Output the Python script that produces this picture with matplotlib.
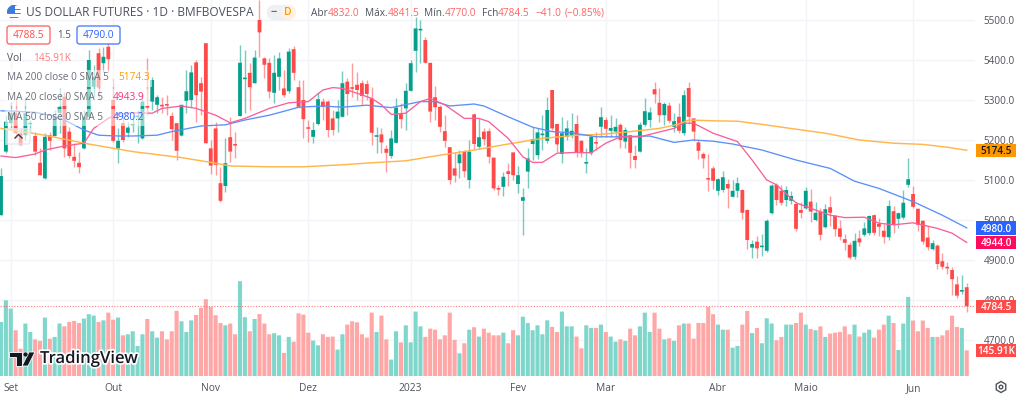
import matplotlib
matplotlib.use("Agg")
import matplotlib.pyplot as plt
import matplotlib.patheffects as pe
from matplotlib.patches import Rectangle, FancyBboxPatch, Circle, Polygon, RegularPolygon

plt.rcParams['font.family'] = ['Open Sans', 'DejaVu Sans']

# daily candles, one column per session
opens = [5012,5171,5242,5267,5217,5212,5239,5210,5143,5104, 5212,5210,5268,5308,5221,5158,5143,5179,5258,5333,
         5417,5392,5433,5300,5179,5242,5218,5236,5257,5204, 5283,5296,5288,5286,5288,5260,5242,5211,5298,5300,
         5394,5342,5442,5179,5229,5092,5085,5207,5188,5260, 5352,5368,5342,5500,5404,5393,5318,5358,5329,5322,
         5427,5332,5300,5230,5208,5240,5296,5296,5254,5254, 5258,5346,5330,5338,5342,5340,5304,5208,5214,5178,
         5160,5193,5265,5279,5323,5423,5474,5450,5393,5307, 5283,5222,5182,5129,5142,5171,5100,5264,5183,5221,
         5222,5156,5078,5083,5122,5169,5090,5048,5121,5190, 5162,5212,5198,5325,5240,5165,5208,5210,5240,5198,
         5141,5167,5193,5233,5250,5223,5221,5238,5196,5212, 5160,5171,5238,5250,5327,5293,5262,5286,5233,5258,
         5217,5330,5254,5194,5165,5103,5129,5073,5075,5090, 5058,5073,5075,5025,4931,4946,4932,4923,5017,5088,
         5073,5050,5048,5040,5025,5029,5046,5000,5021,4982, 5032,5011,4979,4952,4938,4908,4954,4963,4967,5012,
         4990,4973,4957,5022,5003,5006,5088,5065,5028,4998, 4956,4927,4936,4897,4883,4875,4839,4821,4832]
closes = [5110,5246,5267,5217,5187,5267,5241,5171,5112,5208, 5198,5258,5283,5179,5160,5148,5132,5258,5400,5358,
          5332,5408,5402,5198,5198,5200,5231,5238,5259,5296, 5281,5350,5307,5284,5286,5227,5173,5288,5322,5369,
          5312,5321,5192,5136,5138,5048,5142,5171,5186,5393, 5354,5332,5406,5469,5388,5321,5368,5404,5312,5421,
          5368,5283,5252,5228,5225,5302,5283,5225,5225,5271, 5342,5315,5328,5325,5310,5315,5218,5209,5194,5168,
          5204,5281,5252,5323,5392,5479,5476,5393,5271,5282, 5233,5198,5100,5111,5164,5122,5171,5190,5207,5202,
          5158,5079,5076,5108,5115,5112,5112,5057,5154,5202, 5219,5213,5275,5229,5189,5217,5229,5223,5168,5167,
          5143,5208,5191,5257,5228,5230,5233,5200,5225,5168, 5150,5238,5272,5269,5314,5262,5290,5248,5247,5223,
          5312,5258,5221,5173,5154,5101,5098,5102,5107,5079, 5073,5092,5018,4950,4940,4929,4936,4998,5086,5050,
          5043,5075,5060,4978,5018,5073,5021,5018,4963,5027, 5018,4977,4958,4943,4906,4948,4944,4979,5010,4968,
          4983,4958,5035,4988,5017,5043,5102,5033,4988,4946, 4932,4942,4890,4883,4879,4852,4811,4825,4784.5]
highs = [5129,5262,5296,5300,5229,5308,5250,5221,5179,5217, 5221,5275,5329,5321,5233,5192,5171,5275,5425,5388,
         5429,5433,5442,5354,5229,5262,5246,5262,5275,5317, 5404,5358,5312,5308,5312,5271,5242,5288,5375,5388,
         5400,5358,5442,5200,5246,5133,5204,5258,5221,5438, 5425,5392,5425,5550,5408,5404,5412,5421,5375,5429,
         5435,5350,5350,5250,5246,5321,5304,5300,5275,5300, 5373,5354,5392,5371,5350,5350,5333,5233,5229,5188,
         5225,5304,5292,5342,5400,5508,5500,5458,5393,5335, 5288,5262,5182,5171,5175,5175,5200,5267,5254,5229,
         5229,5156,5088,5121,5142,5169,5135,5079,5179,5233, 5229,5262,5308,5325,5240,5258,5250,5268,5262,5200,
         5179,5212,5221,5282,5258,5262,5254,5242,5233,5212, 5188,5246,5304,5283,5346,5329,5296,5296,5267,5292,
         5325,5345,5254,5200,5170,5165,5135,5105,5122,5102, 5100,5108,5078,5028,4950,4960,4966,5003,5090,5092,
         5088,5085,5072,5045,5045,5082,5078,5045,5030,5040, 5060,5011,5000,4965,4945,4968,4975,4995,5012,5015,
         5005,4990,5050,5035,5020,5075,5155,5085,5030,5000, 4985,4950,4940,4917,4895,4882,4860,4862,4841.5]
lows = [5012,5168,5229,5204,5187,5200,5221,5162,5112,5102, 5175,5210,5217,5158,5154,5133,5117,5177,5258,5308,
        5304,5371,5371,5196,5142,5196,5208,5221,5192,5202, 5262,5275,5267,5267,5262,5200,5150,5211,5267,5283,
        5246,5262,5192,5115,5112,5046,5071,5146,5154,5260, 5267,5275,5342,5407,5354,5304,5292,5325,5308,5317,
        5350,5279,5204,5196,5192,5238,5250,5208,5212,5221, 5257,5262,5308,5300,5288,5300,5188,5168,5167,5121,
        5154,5192,5229,5225,5323,5371,5392,5392,5246,5250, 5221,5183,5090,5096,5104,5108,5079,5177,5177,5188,
        5142,5075,5062,5061,5086,5100,5067,4962,5081,5150, 5152,5175,5192,5225,5171,5142,5200,5204,5158,5158,
        5117,5162,5175,5208,5208,5208,5208,5179,5179,5129, 5129,5171,5235,5233,5292,5246,5238,5243,5221,5217,
        5213,5240,5197,5152,5130,5072,5078,5063,5070,5030, 5058,5057,5003,4928,4906,4904,4910,4920,5015,5038,
        5037,5035,5040,4972,5005,5027,4995,4998,4950,4980, 4985,4960,4950,4925,4903,4902,4935,4960,4963,4962,
        4960,4943,4950,4968,4980,5003,5082,5030,4972,4940, 4925,4925,4878,4878,4865,4812,4805,4815,4770]
volumes = [307,430,383,260,155,298,250,208,199,332, 212,222,298,282,307,313,301,326,351,343,
           307,316,360,320,332,231,237,254,171,237, 324,254,218,254,208,254,370,311,250,316,
           347,387,436,392,345,301,288,298,237,538, 334,254,324,352,298,237,243,231,131,222,
           195,356,349,246,201,174,237,222,224,150, 237,292,311,305,237,218,360,250,343,208,
           93,254,191,288,191,366,282,222,269,263, 208,231,360,205,129,186,263,277,224,269,
           246,231,231,246,186,260,231,337,301,260, 288,237,316,279,250,366,282,282,224,157,
           288,273,273,292,250,224,195,208,199,269, 231,282,360,250,360,269,208,214,199,288,
           298,298,212,301,301,392,351,292,263,263, 161,171,292,370,244,273,186,328,298,203,
           222,292,292,301,360,292,267,260,282,222, 241,246,250,282,237,292,224,246,263,218,
           263,292,343,301,148,298,449,315,254,315, 273,222,222,231,260,343,279,273,145.91]

# moving averages read at the session numbers in *_at
ma200_at = [0,9,17,27,37,44,47,55,62,70,76,83,90,97,104,111,118,123,129,135,139,141,146,151,156,163,169,176,183,189,194,198]
ma200 = [5229,5212,5192,5171,5156,5142,5135,5133,5133,5138,5143,5148,5162,5175,5190,5204,5212,5214,5221,5229,5240,5250,5248,5247,5239,5227,5217,5200,5192,5189,5182,5174.3]
ma50_at = [0,3,7,10,13,17,20,24,27,32,35,41,46,50,55,59,61,66,70,75,80,86,89,92,97,99,104,109,113,117,122,126,133,138,142,146,150,156,163,170,175,180,187,193,198]
ma50 = [5273,5272,5269,5262,5250,5225,5212,5210,5210,5212,5221,5235,5238,5250,5262,5275,5282,5285,5282,5287,5281,5296,5296,5285,5290,5285,5258,5232,5221,5218,5208,5208,5210,5194,5200,5197,5190,5175,5150,5129,5097,5079,5046,5012,4980.2]
ma20_at = [0,3,7,9,13,17,19,22,24,27,31,33,37,40,44,47,50,55,59,63,66,68,70,73,76,78,80,83,86,88,91,95,98,100,104,107,109,111,114,118,121,124,127,131,134,138,140,142,146,151,154,157,159,163,167,170,173,177,180,183,187,192,195,198]
ma20 = [5160,5156,5165,5175,5185,5192,5229,5254,5265,5268,5267,5279,5285,5279,5262,5243,5254,5279,5293,5296,5325,5331,5329,5317,5304,5288,5264,5267,5296,5304,5288,5254,5254,5246,5204,5158,5144,5144,5167,5169,5168,5192,5208,5208,5217,5229,5242,5242,5217,5196,5150,5100,5088,5043,5025,5012,5006,5007,4992,4988,4993,4979,4967,4943.9]

month_at = [2,23,43,63,84,106,124,147,165,187]
month_labels = ['Set','Out','Nov','Dez','2023','Fev','Mar','Abr','Maio','Jun']
price_ticks = [4700,4800,4900,5000,5100,5200,5300,5400,5500]

TEAL = '#05a08c'
RED = '#ff4a4a'
TXT = '#50535e'
GRID = '#f2f4f8'

fig = plt.figure(figsize=(10.24, 3.96), dpi=100)
ax = fig.add_axes([0, 20/396, 975/1024, 376/396], zorder=1)
vol = fig.add_axes([0, 20/396, 975/1024, 376/396], zorder=2)
top = fig.add_axes([0, 0, 1, 1], zorder=3)

xs = list(range(len(opens)))
colors = [TEAL if c >= o else RED for o, c in zip(opens, closes)]
tops = [max(o, c) for o, c in zip(opens, closes)]
bots = [min(o, c) for o, c in zip(opens, closes)]

ax.vlines(xs, lows, highs, colors=colors, linewidth=1.0, alpha=0.55, zorder=3)
ax.bar(xs, [max(t - b, 4) for t, b in zip(tops, bots)], bottom=bots, width=0.78, color=colors,
       linewidth=0, zorder=4, snap=False)
ax.plot(ma200_at, ma200, color='#ffb74d', linewidth=1.05, zorder=5)
ax.plot(ma50_at, ma50, color='#5b8ff9', linewidth=0.95, zorder=5)
ax.plot(ma20_at, ma20, color='#f8609a', linewidth=0.95, zorder=5)

ax.set_xlim(-0.205, 199.7)
ax.set_ylim(4610, 5550)
ax.yaxis.tick_right()
ax.set_yticks(price_ticks)
ax.set_yticklabels([f'{p:.1f}' for p in price_ticks], fontsize=7.2, color=TXT)
ax.set_xticks(month_at)
ax.set_xticklabels(month_labels, fontsize=7.4, color=TXT)
ax.tick_params(axis='both', length=0)
ax.tick_params(axis='y', pad=6)
ax.tick_params(axis='x', pad=5)
ax.grid(True, color=GRID, linewidth=1)
ax.set_axisbelow(True)
for s in ax.spines.values():
    s.set_visible(False)

vol_colors = ['#7fd6cb' if c == TEAL else '#ffa6a6' for c in colors]
vol.bar(xs, volumes, width=0.84, color=vol_colors, linewidth=0, snap=False)
vol.set_xlim(-0.205, 199.7)
vol.set_ylim(0, 376 * 5.68)
vol.axis('off')
vol.patch.set_visible(False)

# last price line runs across the volume bars
vol.plot([0, 1], [4784.5, 4784.5], color=RED, linewidth=0.8, linestyle=(0, (1, 1.5)), alpha=0.7,
         transform=ax.get_yaxis_transform())

tags = [(5174.5, '5174.5', '#ff9800', '#131722', ax), (4980.0, '4980.0', '#2962ff', 'white', ax),
        (4944.0, '4944.0', '#ff0a5c', 'white', ax), (4784.5, '4784.5', RED, 'white', ax),
        (145.91, '145.91K', RED, 'white', vol)]
for value, label, bg, fg, owner in tags:
    tr = owner.get_yaxis_transform()
    half = 16.5 if owner is ax else 38
    vol.add_patch(Rectangle((1.001, value - half), 0.0415, 2 * half, transform=tr,
                            facecolor=bg, edgecolor='none', clip_on=False, zorder=6))
    vol.text(1.0215, value, label, transform=tr, ha='center', va='center_baseline', fontsize=7.2,
             color=fg, weight='semibold', clip_on=False, zorder=7)

# everything below is laid out in picture pixels
top.set_xlim(0, 1024)
top.set_ylim(396, 0)
top.axis('off')
top.patch.set_visible(False)

for y0, y1, x1 in [(70, 87, 152), (89, 106, 148), (109, 126, 148), (128, 145, 31)]:
    top.add_patch(Rectangle((5, y0), x1 - 5, y1 - y0, facecolor='white', alpha=0.55, edgecolor='none'))

# flag
disc = Circle((14, 12), 7, transform=top.transData)
for k in range(7):
    r = Rectangle((7, 5 + 2 * k), 14, 1, facecolor='#e8505b' if k % 2 == 0 else 'white', edgecolor='none')
    top.add_patch(r)
    r.set_clip_path(disc)
canton = Rectangle((7, 5), 8, 8, facecolor='#3d7bd9', edgecolor='none')
top.add_patch(canton)
canton.set_clip_path(disc)

top.text(26, 12.5, 'US DOLLAR FUTURES · 1D · BMFBOVESPA', fontsize=8.6, color='#4c5060', va='center')
top.add_patch(FancyBboxPatch((269, 7), 24, 11, boxstyle='round,pad=0,rounding_size=5.5', facecolor='#eef0f3', edgecolor='#eef0f3', linewidth=3))
top.add_patch(FancyBboxPatch((281, 6), 15, 13, boxstyle='round,pad=0,rounding_size=6', facecolor='#fff3e0', edgecolor='none'))
top.text(274, 12.5, '−', fontsize=8, color='#6a6d78', ha='center', va='center', weight='bold')
top.text(288, 12.5, 'D', fontsize=7.5, color='#ff9800', ha='center', va='center', weight='semibold')

ohlc = [(311, 'Abr', TXT), (328, '4832.0', RED), (365, 'Máx.', TXT), (388, '4841.5', RED),
        (424, 'Mín.', TXT), (445, '4770.0', RED), (482, 'Fch', TXT), (498, '4784.5', RED),
        (536, '−41.0', RED), (565, '(−0.85%)', RED)]
for x, s, c in ohlc:
    top.text(x, 13, s, fontsize=7.3, color=c, va='center', alpha=0.85 if c == RED else 1)

for x0, w, s, c in [(7, 43, '4788.5', RED), (77, 43, '4790.0', '#2962ff')]:
    top.add_patch(FancyBboxPatch((x0, 26), w, 18, boxstyle='round,pad=0,rounding_size=2.5',
                                 facecolor='white', edgecolor=c, linewidth=0.9, alpha=0.9))
    top.text(x0 + w / 2, 35.3, s, fontsize=7.3, color=c, ha='center', va='center')
top.text(64, 35, '1.5', fontsize=7.0, color=TXT, ha='center', va='center')

top.text(7, 58.5, 'Vol', fontsize=7.3, color=TXT, va='center')
top.text(33, 58.5, '145.91K', fontsize=7.3, color='#ff7b7b', va='center')
rows = [(78, 'MA 200 close 0 SMA 5', 118, '5174.3', '#ff9800'),
        (97.5, 'MA 20 close 0 SMA 5', 113, '4943.9', '#ff2f7e'),
        (117, 'MA 50 close 0 SMA 5', 113, '4980.2', '#2962ff')]
for y, s, xv, v, c in rows:
    top.text(7, y, s, fontsize=7.2, color='#6b6e78', va='center')
    top.text(xv, y, v, fontsize=7.3, color=c, va='center')

top.add_patch(FancyBboxPatch((7, 129), 23, 15, boxstyle='round,pad=0,rounding_size=2', facecolor='none', edgecolor='#e0e3eb', linewidth=0.8))
top.plot([15, 18.5, 22], [138, 134.5, 138], color='#3a3d45', linewidth=1)

# TradingView mark
halo = [pe.withStroke(linewidth=2.5, foreground='white')]
for shape in [Polygon([(9, 352), (22, 352), (22, 366), (16, 366), (16, 357), (9, 357)], closed=True, facecolor='#131722', edgecolor='white', linewidth=0.6),
              Polygon([(29, 352), (35, 352), (28, 366), (22, 366)], closed=True, facecolor='#131722', edgecolor='white', linewidth=0.6),
              Circle((25.5, 354.5), 2.5, facecolor='#131722', edgecolor='white', linewidth=0.4)]:
    top.add_patch(shape)
top.text(40, 359, 'TradingView', fontsize=12, color='#131722', va='center', weight='semibold', path_effects=halo)

# settings icon
top.add_patch(RegularPolygon((1001, 387), 6, radius=5.5, facecolor='none', edgecolor='#50535e', linewidth=1))
top.add_patch(Circle((1001, 387), 1.8, facecolor='none', edgecolor='#50535e', linewidth=1))

fig.savefig('out.png', dpi=100)
